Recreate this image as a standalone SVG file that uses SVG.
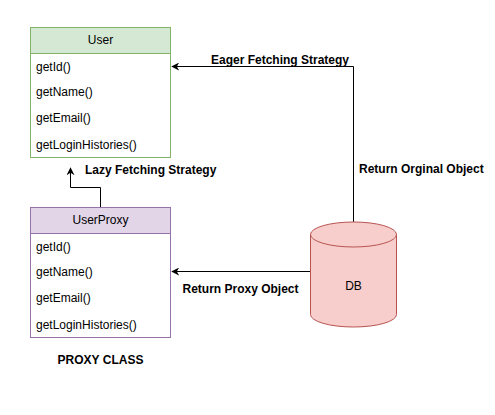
<svg xmlns="http://www.w3.org/2000/svg" width="495" height="415" viewBox="0 0 495 415">
<style>
text{font-family:"Liberation Sans",Arial,sans-serif;font-size:12px;fill:#000}
.b{font-weight:bold}
.m{text-anchor:middle}
.row{dominant-baseline:central}
.line{fill:none;stroke:#000;stroke-width:1}
</style>
<defs>
<marker id="arr" viewBox="0 0 10 10" refX="9" refY="5" markerWidth="8" markerHeight="8" markerUnits="userSpaceOnUse" orient="auto">
<path d="M0,0 L10,5 L0,10 L3,5 Z" fill="#000"/>
</marker>
</defs>
<rect width="495" height="415" fill="#fff"/>
<g id="connectors">
<path class="line" d="M353.5,222 V66.5 H172" marker-end="url(#arr)"/>
<path class="line" d="M310,271.5 H172" marker-end="url(#arr)"/>
<path class="line" d="M100.5,207 V187.5 H70.5 V168" marker-end="url(#arr)"/>
<text class="b m row" x="280" y="60">Eager Fetching Strategy</text>
<text class="b row" x="359" y="169">Return Orginal Object</text>
<text class="b row" x="85" y="170">Lazy Fetching Strategy</text>
<text class="b m row" x="240.5" y="289">Return Proxy Object</text>
</g>
<g id="user">
<rect x="30.5" y="27.5" width="140" height="130" fill="#fff" stroke="#82b366"/>
<rect x="30.5" y="27.5" width="140" height="26" fill="#d5e8d4" stroke="#82b366"/>
<text class="m row" x="100.5" y="40">User</text>
<text class="row" x="36" y="66.5">getId()</text>
<text class="row" x="36" y="92">getName()</text>
<text class="row" x="36" y="118">getEmail()</text>
<text class="row" x="36" y="144.5">getLoginHistories()</text>
</g>
<g id="userproxy">
<rect x="30.5" y="207.5" width="140" height="130" fill="#fff" stroke="#9673a6"/>
<rect x="30.5" y="207.5" width="140" height="26" fill="#e1d5e7" stroke="#9673a6"/>
<text class="m row" x="100.5" y="220">UserProxy</text>
<text class="row" x="36" y="246.5">getId()</text>
<text class="row" x="36" y="272">getName()</text>
<text class="row" x="36" y="298">getEmail()</text>
<text class="row" x="36" y="324.5">getLoginHistories()</text>
</g>
<g id="db">
<path d="M310.5,234.5 A43,12.5 0 0 1 396.5,234.5 V314.5 A43,12.5 0 0 1 310.5,314.5 Z" fill="#f8cecc" stroke="#b85450"/>
<path d="M310.5,234.5 A43,12.5 0 0 0 396.5,234.5" fill="none" stroke="#b85450"/>
<text class="m row" x="353.5" y="286">DB</text>
</g>
<g id="label">
<text class="b m row" x="100.5" y="360">PROXY CLASS</text>
</g>
</svg>
